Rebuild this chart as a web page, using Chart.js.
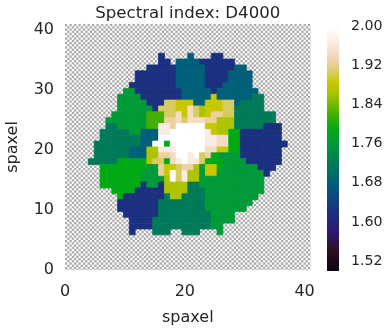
<!DOCTYPE html>
<html><head><meta charset="utf-8">
<script src="https://cdn.jsdelivr.net/npm/chart.js@4"></script>
<style>html,body{margin:0;padding:0;background:#fff}canvas{position:absolute;top:0}</style>
</head><body>
<canvas id="map" width="319" height="331" style="left:0"></canvas>
<canvas id="bar" width="70" height="331" style="left:320px"></canvas>
<script>
const titleText = "Spectral index: D4000";
const axisLabel = "spaxel";
const xTicks = [0, 20, 40];
const yTicks = [0, 10, 20, 30, 40];
const cbTicks = [1.52, 1.60, 1.68, 1.76, 1.84, 1.92, 2.00];
const gridSize = 42;
const axisMax = 41;
const vMin = 1.5, vMax = 2.0;
// value read for each colour class
const levels = {B:1.62,T:1.68,D:1.72,G:1.76,L:1.79,M:1.82,Y:1.865,U:1.885,K:1.905,C:1.925,P:1.945,E:1.965,W:2.0};
// colour scale sampled from the colour bar
const cmap = [[1.5,"#0a0510"],[1.54,"#2a1020"],[1.58,"#2c1a70"],[1.62,"#1c3080"],[1.68,"#00607a"],[1.72,"#007a58"],[1.76,"#009a38"],[1.79,"#00aa15"],[1.82,"#44b000"],[1.865,"#aec400"],[1.885,"#c8c800"],[1.905,"#d8cc60"],[1.925,"#edd0a0"],[1.945,"#f5dcc5"],[1.965,"#f8ece2"],[2.0,"#ffffff"]];
// rows from the top of the map: [row, first column, classes ('.' = no data)]
const rows = [
[5,16,"B....T...BB"],
[6,16,"BB.TTTTBBBBBB"],
[7,14,"BBBBBTTTTTBBBBBTT"],
[8,12,"BBBBBBBTTTTTBBBBTTTT"],
[9,12,"BBBBBBBTTTTTBBBBTTTT"],
[10,11,"BBBBBBBBTTTTTBBBTTTTT"],
[11,10,"GGBBBBBBBBTTTTTBTTTTTTT"],
[12,9,"GGGGBBBBBBBTTTTTUTTTTTTDD"],
[13,9,"GGGGGBBBKKUUUTTUUUKKTDDDD"],
[14,9,"GGGGGGBKKKUUPKYUUUKKDDDDD"],
[15,8,"GGGGGGMMMKKPUPKYUCCKKDDDDDDD"],
[16,7,"GGGGGGGMMMCCPKPPPCCYYYDDDDDDD"],
[17,7,"DDGGGGGMMEECWWWWWUUYYYDDDDDBBB"],
[18,6,"DDDDDGGTTTEEWWWWWWEUYYLLBBBBBBB"],
[19,6,"DDDDDDDTTTWWWWWWWWEEPPLLBBBBBBB"],
[20,5,"DDDDDDDDTTWWLWWWWWWEEPPLLBBBBBBBB"],
[21,5,"DDDDDDTTTYYEEEWWWWWPPUULLBBBBBBB"],
[22,5,"DDDDDDTTTYYCCPWWEWKCLGGGGBBBBBBB"],
[23,4,"DDDDDLLLLLYKKLPEWEEKLLLGGGGBBBBBB"],
[24,6,"LLLLLLLLGGCUUKCCYGUULGGGGGGBBB"],
[25,6,"LLLLLLLGGGCUWKEYYGUUGGGGGGGGB"],
[26,6,"LLLLLLLGGGGYWKEYYGGGGGGGGGGG"],
[27,6,"LLLLLLLBGGBYYYYDDGGGGGGGGGGG"],
[28,8,"LLLLBBBBBYYYYDDDGGGGGGGGGG"],
[29,9,"LBBBBBBBDYYDDDDGGGGGGGGG"],
[30,9,"BBBBBBBDDDDDDDDGGGGGGGG"],
[31,9,"BBBBBBBDDDDDDDDGGGGGGG"],
[32,10,"BBBBBBDDDDDDDDDGGGG"],
[33,11,"BBBBDDDDDDDDDDGGGG"],
[34,11,"BBBBDDDDDDDDDDGG"],
[35,11,"B...DDD..DDD...G"]
];

function hexRgb(h){return [1,3,5].map(i=>parseInt(h.substr(i,2),16));}
function colorOf(v){
  for(let i=1;i<cmap.length;i++){
    if(v<=cmap[i][0]){
      const f=(v-cmap[i-1][0])/(cmap[i][0]-cmap[i-1][0]);
      const a=hexRgb(cmap[i-1][1]),b=hexRgb(cmap[i][1]);
      return `rgb(${a.map((x,k)=>Math.round(x+(b[k]-x)*f)).join(",")})`;
    }
  }
  return cmap[cmap.length-1][1];
}
const cells=[];
rows.forEach(([t,c0,s])=>{[...s].forEach((ch,i)=>{
  if(ch==='.')return;
  const c=c0+i, step=axisMax/gridSize;
  cells.push({x:(c+.5)*step,y:axisMax-(t+.5)*step,v:levels[ch]});
});});

const ink="#262626", FONT="'DejaVu Sans'";
Chart.defaults.font.family=FONT;
Chart.defaults.color=ink;
Chart.defaults.animation=false;

const hatchPlugin={id:"hatch",beforeDatasetsDraw(ch){
  const {ctx,chartArea:a}=ch;
  const tile=9, q=2.25;
  const p=document.createElement("canvas");p.width=p.height=tile;
  const g=p.getContext("2d");g.fillStyle="#fff";g.fillRect(0,0,tile,tile);
  g.fillStyle="#a8a8a8";
  for(let i=0;i<4;i++)for(let j=0;j<4;j++)if((i+j)%2===0)g.fillRect(i*q,j*q,q,q);
  ctx.save();ctx.fillStyle=ctx.createPattern(p,"repeat");
  ctx.translate(a.left,a.top);
  ctx.fillRect(0,0,a.right-a.left,a.bottom-a.top);ctx.restore();
}};

new Chart(document.getElementById("map"),{
  type:"scatter",
  data:{datasets:[{data:cells,
    pointStyle:"rect",
    pointRadius(c){const s=c.chart.scales.x;return (s.width/gridSize)/Math.SQRT2;},
    pointHoverRadius(c){const s=c.chart.scales.x;return (s.width/gridSize)/Math.SQRT2;},
    backgroundColor(c){return c.raw?colorOf(c.raw.v):"#000";},
    borderColor(c){return c.raw?colorOf(c.raw.v):"#000";},
    borderWidth:.8}]},
  options:{responsive:false,
    layout:{padding:{top:0,right:0,bottom:0,left:0}},
    plugins:{legend:{display:false},tooltip:{enabled:false},
      title:{display:true,text:titleText,fullSize:false,color:ink,font:{size:16.6,weight:"normal"},padding:{top:4,bottom:0}}},
    scales:{
      x:{type:"linear",min:0,max:axisMax,grid:{display:false},border:{display:false},
        afterBuildTicks(s){s.ticks=xTicks.map(v=>({value:v}));},
        ticks:{font:{size:16},padding:4,maxRotation:0},
        title:{display:true,text:axisLabel,font:{size:16},padding:{top:6,bottom:4}},
        afterFit(s){s.height=61;}},
      y:{type:"linear",min:0,max:axisMax,grid:{display:false},border:{display:false},
        afterBuildTicks(s){s.ticks=yTicks.map(v=>({value:v}));},
        ticks:{font:{size:16},padding:3},
        title:{display:true,text:axisLabel,font:{size:16},padding:{top:3,bottom:6}},
        afterFit(s){s.width=65;}}
    }},
  plugins:[hatchPlugin]
});

new Chart(document.getElementById("bar"),{
  type:"bar",
  data:{labels:["index"],datasets:[{data:[[vMin,vMax]],barPercentage:1,categoryPercentage:1,
    backgroundColor(c){
      const a=c.chart.chartArea;
      if(!a||!isFinite(a.top)) return "#1c3080";
      const g=c.chart.ctx.createLinearGradient(0,a.bottom,0,a.top);
      cmap.forEach(([v,col])=>g.addColorStop((v-vMin)/(vMax-vMin),col));
      return g;
    }}]},
  options:{responsive:false,
    layout:{padding:{left:7,right:0,top:26,bottom:60}},
    plugins:{legend:{display:false},tooltip:{enabled:false},title:{display:false}},
    scales:{
      x:{display:false},
      y:{position:"right",min:vMin,max:vMax,grid:{display:false},border:{display:false},
        afterBuildTicks(s){s.ticks=cbTicks.map(v=>({value:v}));},
        ticks:{font:{size:14.2},padding:4,callback:v=>v.toFixed(2)},
        afterFit(s){s.width=51;}}
    }}
});
</script>
</body></html>
